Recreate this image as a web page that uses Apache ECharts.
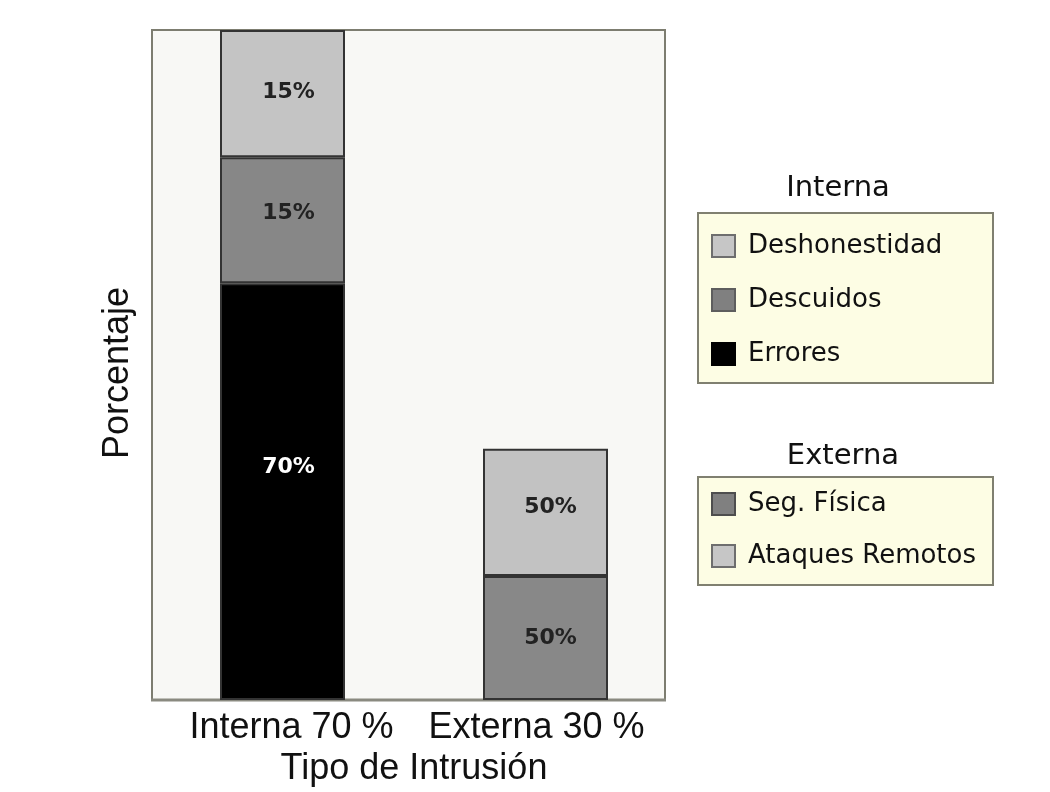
<!DOCTYPE html>
<html>
<head>
<meta charset="utf-8">
<script src="https://cdn.jsdelivr.net/npm/echarts@6/dist/echarts.min.js"></script>
<style>
  html, body { margin: 0; padding: 0; background: #ffffff; }
  #chart { width: 1050px; height: 792px; }
</style>
</head>
<body>
<div id="chart"></div>
<script>
// categorias del eje x
var categorias = ['Interna 70 %', 'Externa 30 %'];

// alturas de los segmentos (escala 0-100)
var errores = [62.2, null];
var descuidos = [18.8, null];
var deshonestidad = [19.0, null];
var segFisica = [null, 18.5];
var ataquesRemotos = [null, 19.0];

// textos de las etiquetas
var etqErrores = ['70%', ''];
var etqDescuidos = ['15%', ''];
var etqDeshonestidad = ['15%', ''];
var etqSegFisica = ['', '50%'];
var etqAtaques = ['', '50%'];

var chart = echarts.init(document.getElementById('chart'));

function serie(nombre, datos, textos, color, colorTexto, offset) {
    return {
        name: nombre,
        type: 'bar',
        stack: 'total',
        barWidth: 125,
        data: datos,
        itemStyle: {
            color: color,
            borderColor: '#333333',
            borderWidth: 2
        },
        label: {
            show: true,
            position: 'inside',
            offset: offset || [0, 0],
            fontFamily: 'DejaVu Sans',
            fontWeight: 'bold',
            fontSize: 22,
            color: colorTexto,
            formatter: function(p) {
                return textos[p.dataIndex];
            }
        }
    };
}

var estiloLeyenda = {
    orient: 'vertical',
    padding: 0,
    itemWidth: 23,
    itemHeight: 22,
    icon: 'rect',
    textStyle: {
        fontFamily: 'DejaVu Sans',
        fontSize: 26,
        color: '#111111',
        padding: [0, 0, 0, 8]
    },
    selectedMode: false
};

var estiloEtiqueta = {
    fontFamily: 'Liberation Sans',
    fontSize: 36,
    color: '#111111'
};

var option = {
    backgroundColor: '#ffffff',
    animation: false,
    // la rejilla es algo mas ancha que el marco para centrar las barras como en el original
    grid: {
        left: 151,
        right: 373,
        top: 30,
        bottom: 92,
        show: false
    },
    xAxis: {
        type: 'category',
        data: categorias,
        axisTick: { show: false },
        axisLine: { show: false },
        axisLabel: {
            interval: 0,
            hideOverlap: false,
            fontFamily: 'Liberation Sans',
            fontSize: 36,
            color: '#111111',
            margin: 10,
            formatter: function(v, i) {
                return i === 0 ? '{a|' + v + '}' : '{b|' + v + '}';
            },
            rich: {
                a: Object.assign({ padding: [0, 0, 0, 18] }, estiloEtiqueta),
                b: Object.assign({ padding: [0, 18, 0, 0] }, estiloEtiqueta)
            }
        },
        name: 'Tipo de Intrusión',
        nameLocation: 'middle',
        nameGap: 50,
        nameTextStyle: {
            fontFamily: 'Liberation Sans',
            fontSize: 36,
            color: '#111111'
        }
    },
    yAxis: {
        type: 'value',
        min: 0,
        max: 100,
        axisLabel: { show: false },
        axisTick: { show: false },
        axisLine: { show: false },
        splitLine: { show: false },
        name: 'Porcentaje',
        nameLocation: 'middle',
        nameRotate: 90,
        nameGap: 15,
        nameTextStyle: {
            fontFamily: 'Liberation Sans',
            fontSize: 36,
            color: '#111111',
            padding: [0, 16, 0, 0]
        }
    },
    legend: [
        Object.assign({}, estiloLeyenda, {
            left: 711,
            top: 233,
            itemGap: 28,
            data: [
                { name: 'Deshonestidad', itemStyle: { color: '#c6c6c6', borderColor: '#6e6e6e', borderWidth: 2 } },
                { name: 'Descuidos', itemStyle: { color: '#808080', borderColor: '#5e5e5e', borderWidth: 2 } },
                { name: 'Errores', itemStyle: { color: '#000000', borderColor: '#000000', borderWidth: 2 } }
            ]
        }),
        Object.assign({}, estiloLeyenda, {
            left: 711,
            top: 491,
            itemGap: 26,
            data: [
                { name: 'Seg. Física', itemStyle: { color: '#808080', borderColor: '#4e4e4e', borderWidth: 2 } },
                { name: 'Ataques Remotos', itemStyle: { color: '#c6c6c6', borderColor: '#6e6e6e', borderWidth: 2 } }
            ]
        })
    ],
    graphic: [
        // marco del area de trazado
        {
            type: 'rect',
            z: -10,
            silent: true,
            shape: { x: 152, y: 30, width: 513, height: 670 },
            style: { fill: '#f8f8f5', stroke: '#7d7d70', lineWidth: 2 }
        },
        {
            type: 'line',
            z: -9,
            silent: true,
            shape: { x1: 151, y1: 700, x2: 666, y2: 700 },
            style: { stroke: '#8a8a80', lineWidth: 3 }
        },
        // cajas de leyenda
        {
            type: 'rect',
            z: -1,
            shape: { x: 698, y: 213, width: 295, height: 170 },
            style: { fill: '#fdfde4', stroke: '#808070', lineWidth: 2 }
        },
        {
            type: 'rect',
            z: -1,
            shape: { x: 698, y: 477, width: 295, height: 108 },
            style: { fill: '#fdfde4', stroke: '#808070', lineWidth: 2 }
        },
        {
            type: 'text',
            x: 838,
            y: 188,
            style: {
                text: 'Interna',
                fontFamily: 'DejaVu Sans',
                fontSize: 29,
                fill: '#111111',
                align: 'center',
                verticalAlign: 'middle'
            }
        },
        {
            type: 'text',
            x: 843,
            y: 456,
            style: {
                text: 'Externa',
                fontFamily: 'DejaVu Sans',
                fontSize: 29,
                fill: '#111111',
                align: 'center',
                verticalAlign: 'middle'
            }
        }
    ],
    series: [
        serie('Errores', errores, etqErrores, '#000000', '#ffffff', [6, -24]),
        serie('Descuidos', descuidos, etqDescuidos, '#878787', '#222222', [6, -7]),
        serie('Deshonestidad', deshonestidad, etqDeshonestidad, '#c4c4c4', '#222222', [6, -1]),
        serie('Seg. Física', segFisica, etqSegFisica, '#888888', '#222222', [5, 0]),
        serie('Ataques Remotos', ataquesRemotos, etqAtaques, '#c2c2c2', '#222222', [5, -5])
    ]
};

chart.setOption(option);
</script>
</body>
</html>
